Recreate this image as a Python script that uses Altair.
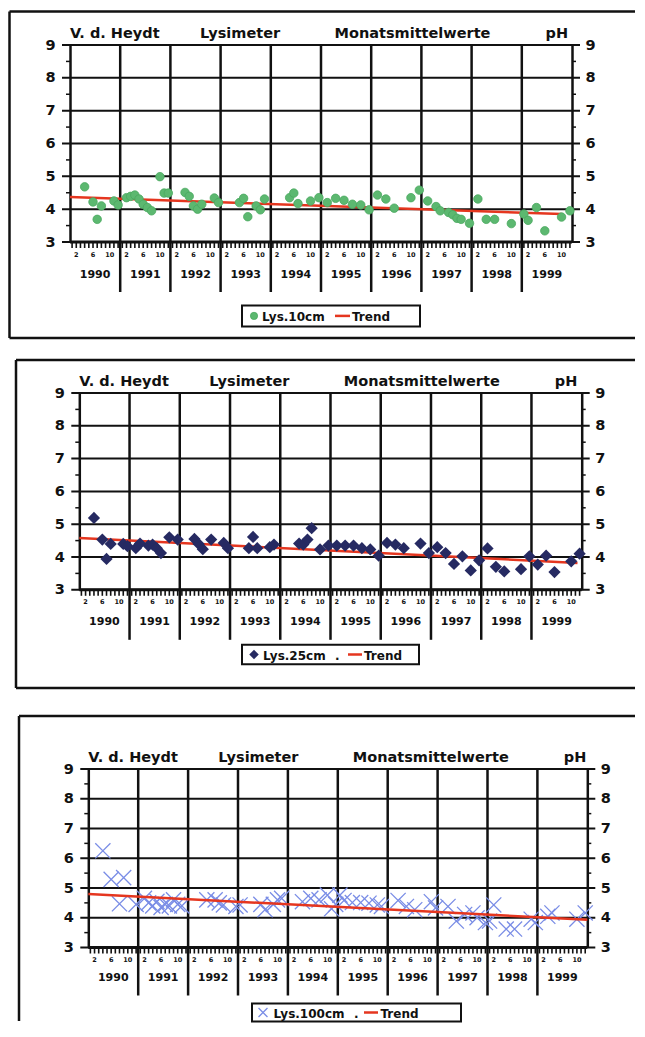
import altair as alt
import pandas as pd

FONT = "DejaVu Sans"
INK = "#111111"
RED = "#e5361f"

# ---------------- data ----------------
years = ["1990", "1991", "1992", "1993", "1994", "1995", "1996", "1997", "1998", "1999"]
labelled_months = [2, 6, 10]
ph_ticks = [3, 4, 5, 6, 7, 8, 9]
ph_half = [3.5, 4.5, 5.5, 6.5, 7.5, 8.5]
title_words = ["V. d. Heydt", "Lysimeter", "Monatsmittelwerte", "pH"]

lys10_dates = ["1990-04", "1990-06", "1990-07", "1990-08", "1990-11", "1990-12",
               "1991-02", "1991-03", "1991-04", "1991-05", "1991-06", "1991-07", "1991-08",
               "1991-10", "1991-11", "1991-12",
               "1992-04", "1992-05", "1992-06", "1992-07", "1992-08", "1992-11", "1992-12",
               "1993-05", "1993-06", "1993-07", "1993-09", "1993-10", "1993-11",
               "1994-05", "1994-06", "1994-07", "1994-10", "1994-12",
               "1995-02", "1995-04", "1995-06", "1995-08", "1995-10", "1995-12",
               "1996-02", "1996-04", "1996-06", "1996-10", "1996-12",
               "1997-02", "1997-04", "1997-05", "1997-07", "1997-08", "1997-09", "1997-10", "1997-12",
               "1998-02", "1998-04", "1998-06", "1998-10",
               "1999-01", "1999-02", "1999-04", "1999-06", "1999-10", "1999-12"]
lys10_ph = [4.68, 4.22, 3.69, 4.10, 4.25, 4.13,
            4.35, 4.39, 4.43, 4.31, 4.15, 4.05, 3.95,
            4.99, 4.49, 4.49,
            4.51, 4.39, 4.10, 4.00, 4.15, 4.34, 4.20,
            4.20, 4.33, 3.77, 4.10, 3.98, 4.31,
            4.35, 4.49, 4.17, 4.25, 4.35,
            4.20, 4.33, 4.27, 4.15, 4.13, 3.98,
            4.43, 4.31, 4.03, 4.35, 4.58,
            4.25, 4.08, 3.95, 3.90, 3.83, 3.72, 3.69, 3.57,
            4.31, 3.69, 3.69, 3.56,
            3.85, 3.66, 4.05, 3.34, 3.76, 3.95]
trend10_month = [0, 117.5]
trend10_ph = [4.37, 3.85]

lys25_dates = ["1990-04", "1990-06", "1990-07", "1990-08", "1990-11", "1990-12",
               "1991-02", "1991-03", "1991-05", "1991-06", "1991-07", "1991-08", "1991-10", "1991-12",
               "1992-04", "1992-05", "1992-06", "1992-08", "1992-11", "1992-12",
               "1993-05", "1993-06", "1993-07", "1993-10", "1993-11",
               "1994-05", "1994-06", "1994-07", "1994-08", "1994-10", "1994-12",
               "1995-02", "1995-04", "1995-06", "1995-08", "1995-10", "1995-12",
               "1996-02", "1996-04", "1996-06", "1996-10", "1996-12",
               "1997-02", "1997-04", "1997-06", "1997-08", "1997-10", "1997-12",
               "1998-02", "1998-04", "1998-06", "1998-10", "1998-12",
               "1999-02", "1999-04", "1999-06", "1999-10", "1999-12"]
lys25_ph = [5.19, 4.53, 3.94, 4.40, 4.40, 4.33,
            4.27, 4.41, 4.35, 4.38, 4.27, 4.12, 4.60, 4.53,
            4.55, 4.40, 4.24, 4.53, 4.43, 4.27,
            4.27, 4.61, 4.27, 4.30, 4.38,
            4.41, 4.38, 4.53, 4.88, 4.23, 4.35,
            4.35, 4.35, 4.35, 4.27, 4.23, 4.04,
            4.43, 4.38, 4.27, 4.41, 4.12,
            4.30, 4.12, 3.79, 4.02, 3.59, 3.90,
            4.26, 3.70, 3.56, 3.63, 4.02,
            3.77, 4.04, 3.54, 3.87, 4.10]
trend25_month = [0, 119]
trend25_ph = [4.58, 3.82]

lys100_dates = ["1990-04", "1990-06", "1990-08", "1990-09", "1990-12",
                "1991-02", "1991-03", "1991-04", "1991-05", "1991-06", "1991-07", "1991-08",
                "1991-09", "1991-10", "1991-11",
                "1992-05", "1992-07", "1992-08", "1992-09", "1992-12",
                "1993-01", "1993-06", "1993-07", "1993-09", "1993-10", "1993-11",
                "1994-04", "1994-06", "1994-08", "1994-10", "1994-11", "1994-12",
                "1995-01", "1995-02", "1995-04", "1995-06", "1995-08", "1995-10", "1995-11",
                "1996-03", "1996-05", "1996-07", "1996-11", "1996-12",
                "1997-03", "1997-05", "1997-07", "1997-09", "1997-10", "1997-12",
                "1998-01", "1998-02", "1998-05", "1998-07", "1998-11", "1998-12",
                "1999-03", "1999-04", "1999-10", "1999-12"]
lys100_ph = [6.25, 5.29, 4.47, 5.35, 4.45,
             4.65, 4.50, 4.40, 4.55, 4.35, 4.45, 4.40,
             4.60, 4.45, 4.40,
             4.60, 4.60, 4.50, 4.43, 4.38,
             4.43, 4.45, 4.27, 4.45, 4.60, 4.65,
             4.54, 4.65, 4.60, 4.76, 4.30, 4.45,
             4.76, 4.58, 4.51, 4.51, 4.49, 4.43, 4.38,
             4.58, 4.38, 4.27, 4.54, 4.33,
             4.38, 3.89, 4.11, 4.16, 4.00, 3.84,
             3.89, 4.43, 3.62, 3.62, 3.95, 3.84,
             4.05, 4.16, 3.95, 4.16]
trend100_month = [0, 120]
trend100_ph = [4.80, 3.93]


def month_pos(d):
    y, m = d.split("-")
    return (int(y) - int(years[0])) * 12 + int(m) - 1 + 0.5


ORIGIN_X = 70    # page x of the common view origin
RIGHT_EDGE = 635  # page x where the panel frames stop (keeps the page from overflowing)


def make_panel(g, dates, ph, trend_t, trend_ph, marker, legend_label, legend_dot):
    W, H, s = g["W"], g["H"], g["shift"]
    px = lambda v: v - ORIGIN_X  # page x -> view x
    xs = alt.Scale(domain=[0, 120], range=[s, s + W], nice=False, zero=False)
    ys = alt.Scale(domain=[3, 9], nice=False, zero=False)
    one = pd.DataFrame({"k": [0]})
    pts = pd.DataFrame({"t": [month_pos(d) for d in dates], "ph": ph})
    trend = pd.DataFrame({"t": trend_t, "ph": trend_ph})
    seps = pd.DataFrame({"t": [12 * i for i in range(1, len(years))]})
    ylab = pd.DataFrame({"t": [12 * i + 6 for i in range(len(years))], "year": years})
    mticks = pd.DataFrame({"t": [k + 0.5 for k in range(12 * len(years))]})
    mlab = pd.DataFrame({"t": [12 * i + m - 0.5 for i in range(len(years)) for m in labelled_months],
                         "lab": [str(m) for i in range(len(years)) for m in labelled_months]})
    half = pd.DataFrame({"ph": ph_half})
    whole = pd.DataFrame({"ph": ph_ticks})

    layers = []
    # invisible rectangle fixing this panel's extent in the stack
    layers.append(alt.Chart(one).mark_rect(opacity=0).encode(
        x=alt.value(px(8)), x2=alt.value(px(RIGHT_EDGE + 2)), y=alt.value(g["by0"]), y2=alt.value(g["by1"])))
    # panel frame
    frame = alt.Chart(one).mark_rule(color=INK, strokeWidth=2.5)
    fx = px(g["frame_x"])
    layers.append(frame.encode(x=alt.value(fx), y=alt.value(g["ftop"]), y2=alt.value(g["fbot"])))
    layers.append(frame.encode(x=alt.value(fx), x2=alt.value(px(RIGHT_EDGE)), y=alt.value(g["ftop"])))
    if g["bottom"]:
        layers.append(frame.encode(x=alt.value(fx), x2=alt.value(px(RIGHT_EDGE)), y=alt.value(g["fbot"])))

    # horizontal grid lines (with outer ticks on both sides)
    layers.append(alt.Chart(whole).mark_rule(color=INK, strokeWidth=2).encode(
        y=alt.Y("ph:Q", scale=ys, axis=None), x=alt.value(s - 8), x2=alt.value(s + W + 8)))
    # half-unit ticks both sides
    layers.append(alt.Chart(half).mark_rule(color=INK, strokeWidth=1.5).encode(
        y=alt.Y("ph:Q", scale=ys, axis=None), x=alt.value(s - 4), x2=alt.value(s)))
    layers.append(alt.Chart(half).mark_rule(color=INK, strokeWidth=1.5).encode(
        y=alt.Y("ph:Q", scale=ys, axis=None), x=alt.value(s + W), x2=alt.value(s + W + 4)))
    # year separators
    layers.append(alt.Chart(seps).mark_rule(color=INK, strokeWidth=2.5).encode(
        x=alt.X("t:Q", scale=xs, axis=None), y=alt.value(0), y2=alt.value(H + g["sep"])))
    # month ticks + bottom line
    layers.append(alt.Chart(mticks).mark_rule(color=INK, strokeWidth=1.6).encode(
        x=alt.X("t:Q", scale=xs, axis=None), y=alt.value(H), y2=alt.value(H + 6)))
    layers.append(alt.Chart(one).mark_rule(color=INK, strokeWidth=3).encode(
        x=alt.value(s), x2=alt.value(s + W), y=alt.value(H)))
    layers.append(alt.Chart(mlab).mark_text(font=FONT, fontSize=6.5, fontWeight="bold", color=INK,
                                            baseline="top", align="center").encode(
        x=alt.X("t:Q", scale=xs, axis=None), y=alt.value(H + 9.5), text="lab:N"))

    yleft = alt.Axis(values=ph_ticks, orient="left", grid=False, offset=-s,
                     domainColor=INK, domainWidth=2.5, ticks=False,
                     labelFont=FONT, labelFontSize=14.5, labelFontWeight="bold", labelColor=INK,
                     labelPadding=15, title=None, format="d")
    yright = alt.Axis(values=ph_ticks, orient="right", grid=False,
                      domainColor=INK, domainWidth=2.5, ticks=False,
                      labelFont=FONT, labelFontSize=14.5, labelFontWeight="bold", labelColor=INK,
                      labelPadding=13, title=None, format="d")

    point_layer = marker(alt.Chart(pts)).encode(
        x=alt.X("t:Q", scale=xs, axis=None), y=alt.Y("ph:Q", scale=ys, axis=yleft))
    trend_layer = alt.Chart(trend).mark_line(color=RED, strokeWidth=2.5).encode(
        x=alt.X("t:Q", scale=xs, axis=None), y=alt.Y("ph:Q", scale=ys, axis=yright))
    if g["trend_on_top"]:
        layers += [point_layer, trend_layer]
    else:
        layers += [trend_layer, point_layer]

    # year labels
    layers.append(alt.Chart(ylab).mark_text(font=FONT, fontSize=11, fontWeight="bold", color=INK,
                                            baseline="alphabetic", align="center").encode(
        x=alt.X("t:Q", scale=xs, axis=None), y=alt.value(H + g["ybase"]), text="year:N"))

    # heading words
    for word, wx in zip(title_words, [0, 130, 264.5, 475.5]):
        layers.append(alt.Chart(one).mark_text(font=FONT, fontSize=14.5, fontWeight="bold", color=INK,
                                               align="left", baseline="alphabetic").encode(
            x=alt.value(s + wx), y=alt.value(-7), text=alt.value(word)))

    # legend
    L = g["leg"]
    cy = (L["y0"] + L["y1"]) / 2
    layers.append(alt.Chart(one).mark_rect(fill="white", stroke=INK, strokeWidth=2).encode(
        x=alt.value(px(L["x0"])), x2=alt.value(px(L["x1"])), y=alt.value(L["y0"]), y2=alt.value(L["y1"])))
    layers.append(marker(alt.Chart(one), legend=True).encode(x=alt.value(px(L["sym"])), y=alt.value(cy)))
    txt = dict(font=FONT, fontSize=12, fontWeight="bold", color=INK, align="left", baseline="middle")
    layers.append(alt.Chart(one).mark_text(**txt).encode(
        x=alt.value(px(L["lab"])), y=alt.value(cy + 1), text=alt.value(legend_label)))
    if legend_dot:
        layers.append(alt.Chart(one).mark_text(**txt).encode(
            x=alt.value(px(L["dot"])), y=alt.value(cy + 1), text=alt.value(".")))
    layers.append(alt.Chart(one).mark_rule(color=RED, strokeWidth=2.5).encode(
        x=alt.value(px(L["r0"])), x2=alt.value(px(L["r1"])), y=alt.value(cy)))
    layers.append(alt.Chart(one).mark_text(**txt).encode(
        x=alt.value(px(L["trend"])), y=alt.value(cy + 1), text=alt.value("Trend")))

    return alt.layer(*layers).resolve_axis(y="independent").properties(width=s + W, height=H)


def green_dots(c, legend=False):
    return c.mark_circle(size=52 if legend else 72, color="#5cb870", opacity=1,
                         stroke="#4aa860", strokeWidth=0.8)


def navy_diamonds(c, legend=False):
    return c.mark_point(shape="diamond", filled=True, size=90 if legend else 150, color="#262a62", opacity=1)


CROSS = "M-1,-1L1,1M-1,1L1,-1"


def blue_crosses(c, legend=False):
    return c.mark_point(shape=CROSS, filled=False, size=80 if legend else 230, color="#7a8de6",
                        strokeWidth=1.3, opacity=1)


# geometry: y values relative to each plot's top, x values in page pixels
g1 = dict(W=502, H=197, shift=0, by0=-36.6, by1=303.4, frame_x=9.5, ftop=-33.6, fbot=292.9,
          bottom=True, sep=50, ybase=35.5, trend_on_top=False,
          leg=dict(x0=242, x1=420, y0=260.4, y1=281.4, sym=254, lab=262, dot=0, r0=335, r1=350, trend=352))
g2 = dict(W=502.4, H=196.8, shift=9.3, by0=-43.5, by1=308.5, frame_x=16, ftop=-33, fbot=295,
          bottom=True, sep=50, ybase=35, trend_on_top=False,
          leg=dict(x0=242, x1=419, y0=251.8, y1=271.2, sym=254, lab=263, dot=335, r0=348, r1=362, trend=364))
g3 = dict(W=499, H=178.5, shift=18.3, by0=-66.5, by1=253.5, frame_x=19, ftop=-53, fbot=252,
          bottom=False, sep=48, ybase=33.3, trend_on_top=True,
          leg=dict(x0=252, x1=461, y0=234.5, y1=252.5, sym=263, lab=273.5, dot=354, r0=364, r1=378,
                   trend=380.5))

p1 = make_panel(g1, lys10_dates, lys10_ph, trend10_month, trend10_ph, green_dots, "Lys.10cm", False)
p2 = make_panel(g2, lys25_dates, lys25_ph, trend25_month, trend25_ph, navy_diamonds, "Lys.25cm", True)
p3 = make_panel(g3, lys100_dates, lys100_ph, trend100_month, trend100_ph, blue_crosses, "Lys.100cm", True)

chart = alt.vconcat(p1, p2, p3, spacing=0).properties(padding=0, background="white").configure_view(stroke=None)

chart.save("out.html", embed_options={"renderer": "svg", "actions": False})
